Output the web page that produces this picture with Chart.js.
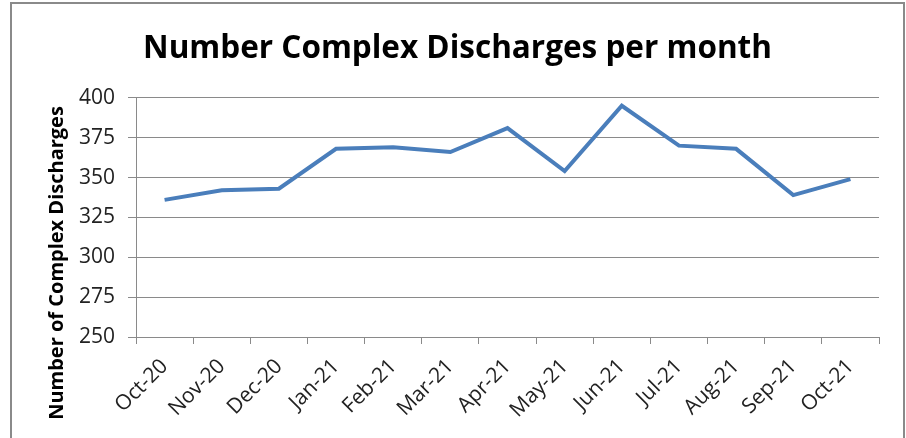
<!DOCTYPE html>
<html>
<head>
<meta charset="utf-8">
<script src="https://cdn.jsdelivr.net/npm/chart.js@4/dist/chart.umd.min.js"></script>
<style>
  html, body { margin: 0; padding: 0; background: #fff; }
  #wrap { position: relative; width: 906px; height: 438px; }
</style>
</head>
<body>
<div id="wrap"><canvas id="chart" width="906" height="438"></canvas></div>
<script>
(function() {
'use strict';

const months = ['Oct-20', 'Nov-20', 'Dec-20', 'Jan-21', 'Feb-21', 'Mar-21', 'Apr-21',
                'May-21', 'Jun-21', 'Jul-21', 'Aug-21', 'Sep-21', 'Oct-21'];
const discharges = [336, 342, 343, 368, 369, 366, 381, 354, 395, 370, 368, 339, 349];
const yMin = 250;
const yMax = 400;
const yStep = 25;

const titleText = 'Number Complex Discharges per month';
const yTitleText = 'Number of Complex Discharges';

const FONT = '"Open Sans", Lato, sans-serif';

// --- frame + rotated y title (Excel-style, not centred on the axis) ---
const framePlugin = {
  id: 'frame',
  beforeDraw(chart) {
    const ctx = chart.ctx;
    ctx.save();
    ctx.strokeStyle = '#8a8a8a';
    ctx.lineWidth = 2;
    ctx.strokeRect(11, 3, 893, 450);
    ctx.restore();
  },
  afterDraw(chart) {
    const ctx = chart.ctx;
    ctx.save();
    ctx.translate(57, 263);
    ctx.rotate(-Math.PI / 2);
    ctx.fillStyle = '#000';
    ctx.font = 'bold 20px ' + FONT;
    ctx.textAlign = 'center';
    ctx.textBaseline = 'middle';
    ctx.fillText(yTitleText, 0, 0);
    ctx.restore();
  }
};

new Chart(document.getElementById('chart'), {
  type: 'line',
  data: {
    labels: months,
    datasets: [{
      label: 'Complex Discharges',
      data: discharges,
      borderColor: '#4a7ebb',
      backgroundColor: '#4a7ebb',
      borderWidth: 4,
      pointRadius: 0,
      tension: 0,
      fill: false,
    }]
  },
  options: {
    responsive: false,
    animation: false,
    layout: { padding: { left: 36, right: 27, top: 0, bottom: 0 } },
    plugins: {
      legend: { display: false },
      tooltip: { enabled: false },
      title: {
        display: true,
        text: titleText,
        color: '#000',
        font: { size: 31.5, weight: 'bold', family: FONT, lineHeight: 1.2 },
        padding: { top: 30, bottom: 30 }
      }
    },
    scales: {
      x: {
        offset: true,
        afterFit: s => { s.height = 101; },
        grid: { offset: true, drawOnChartArea: false, drawTicks: true, tickLength: 7, color: '#8a8a8a' },
        border: { display: true, color: '#8a8a8a', width: 1 },
        ticks: {
          color: '#222',
          font: { size: 21, family: FONT },
          minRotation: 45,
          maxRotation: 45,
          autoSkip: false,
          padding: 10
        }
      },
      y: {
        min: yMin,
        max: yMax,
        afterFit: s => { s.width = 100; },
        grid: { color: '#8a8a8a', drawTicks: true, tickLength: 8 },
        border: { display: true, color: '#8a8a8a', width: 1 },
        ticks: {
          stepSize: yStep,
          color: '#222',
          font: { size: 21, family: FONT },
          padding: 13
        }
      }
    }
  },
  plugins: [framePlugin]
});

})();
</script>
</body>
</html>
